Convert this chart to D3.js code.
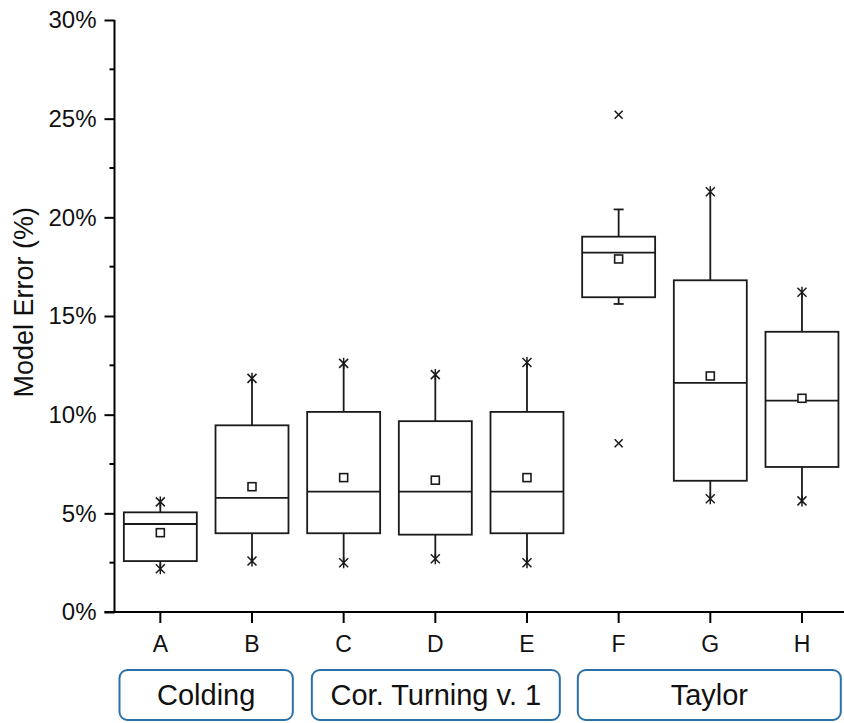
<!DOCTYPE html>
<html>
<head>
<meta charset="utf-8">
<script src="https://cdn.jsdelivr.net/npm/d3@7/dist/d3.min.js"></script>
<style>
  html, body { margin: 0; padding: 0; background: #fff; }
  svg { display: block; font-family: "Liberation Sans", Arial, sans-serif; }
</style>
</head>
<body>
<svg id="chart" width="844" height="723"></svg>
<script>
// Model error distribution per model (values in %)
const categories = ["A", "B", "C", "D", "E", "F", "G", "H"];
const q1        = [2.58, 3.99, 3.99, 3.92, 3.99, 15.95, 6.65, 7.35];
const median    = [4.46, 5.78, 6.10, 6.10, 6.10, 18.21, 11.61, 10.71];
const q3        = [5.05, 9.46, 10.14, 9.67, 10.14, 19.02, 16.81, 14.20];
const mean      = [4.02, 6.35, 6.81, 6.68, 6.81, 17.89, 11.96, 10.83];
const whiskLow  = [2.19, 2.58, 2.50, 2.70, 2.50, 15.61, 5.74, 5.63];
const whiskHigh = [5.58, 11.84, 12.60, 12.03, 12.64, 20.40, 21.30, 16.20];
// whisker ends drawn as asterisks (min/max) or as capped ends
const whiskerStyle = ["star", "star", "star", "star", "star", "cap", "star", "star"];
// individual outliers: [category, value]
const outliers = [["F", 25.2], ["F", 8.55]];

const yTicks = [0, 5, 10, 15, 20, 25, 30];
const groups = [
  { label: "Colding", from: "A", to: "B" },
  { label: "Cor. Turning v. 1", from: "C", to: "E" },
  { label: "Taylor", from: "F", to: "H" }
];

const svg = d3.select("#chart");
const x0 = 114.5, x1 = 847.8, yTop = 20, yBot = 612;

const x = d3.scaleBand().domain(categories).range([x0, x1]).paddingInner(0.2).paddingOuter(0.1);
const xc = c => x(c) + x.bandwidth() / 2;
const y = d3.scaleLinear().domain([0, 30]).range([yBot, yTop]);

const ink = "#1a1a1a";
const txt = "#111";

// Y axis with major and minor ticks
const yAxis = d3.axisLeft(y).tickValues(yTicks).tickFormat(d => d + "%").tickSize(10).tickPadding(8);
const gy = svg.append("g").attr("transform", `translate(${x0},0)`).call(yAxis);
gy.select(".domain").attr("stroke", "#000").attr("stroke-width", 2).attr("d", `M0,${yBot}V${yTop}`);
gy.selectAll(".tick line").attr("stroke", "#000").attr("stroke-width", 2);
gy.selectAll(".tick text").attr("font-size", 24).attr("fill", txt)
  .attr("font-family", "Liberation Sans, Arial, sans-serif");
const minor = d3.range(2.5, 30, 5);
svg.append("g").selectAll("line").data(minor).join("line")
  .attr("x1", x0 - 5).attr("x2", x0).attr("y1", d => y(d)).attr("y2", d => y(d))
  .attr("stroke", "#000").attr("stroke-width", 2);

// X axis
const xAxis = d3.axisBottom(x).tickSize(11).tickPadding(13);
const gx = svg.append("g").attr("transform", `translate(0,${yBot})`).call(xAxis);
gx.select(".domain").attr("stroke", "#000").attr("stroke-width", 2).attr("d", `M${x0 - 10},0H${x1}`);
gx.selectAll(".tick line").attr("stroke", "#000").attr("stroke-width", 2);
gx.selectAll(".tick text").attr("font-size", 23).attr("fill", txt)
  .attr("font-family", "Liberation Sans, Arial, sans-serif");

// Y axis title
svg.append("text")
  .attr("transform", `translate(33,${y(15.7)}) rotate(-90)`)
  .attr("text-anchor", "middle")
  .attr("font-size", 27)
  .attr("fill", txt)
  .text("Model Error (%)");

// Boxes
const bw = x.bandwidth() * 0.995;
const boxes = svg.append("g");
categories.forEach((c, i) => {
  const cx = xc(c);
  const g = boxes.append("g");
  // whiskers
  g.append("line").attr("x1", cx).attr("x2", cx).attr("y1", y(q3[i])).attr("y2", y(whiskHigh[i]))
    .attr("stroke", ink).attr("stroke-width", 1.8);
  g.append("line").attr("x1", cx).attr("x2", cx).attr("y1", y(q1[i])).attr("y2", y(whiskLow[i]))
    .attr("stroke", ink).attr("stroke-width", 1.8);
  // box
  g.append("rect").attr("x", cx - bw / 2).attr("width", bw)
    .attr("y", y(q3[i])).attr("height", y(q1[i]) - y(q3[i]))
    .attr("fill", "none").attr("stroke", ink).attr("stroke-width", 1.8);
  // median
  g.append("line").attr("x1", cx - bw / 2).attr("x2", cx + bw / 2)
    .attr("y1", y(median[i])).attr("y2", y(median[i]))
    .attr("stroke", ink).attr("stroke-width", 1.8);
  // mean
  g.append("rect").attr("x", cx - 4).attr("y", y(mean[i]) - 4).attr("width", 8).attr("height", 8)
    .attr("fill", "#fff").attr("stroke", ink).attr("stroke-width", 1.6);
  // whisker ends
  [whiskLow[i], whiskHigh[i]].forEach(v => {
    const yy = y(v);
    if (whiskerStyle[i] === "cap") {
      g.append("line").attr("x1", cx - 5).attr("x2", cx + 5).attr("y1", yy).attr("y2", yy)
        .attr("stroke", ink).attr("stroke-width", 1.8);
    } else {
      const s = 4.5;
      g.append("path")
        .attr("d", `M${cx - s},${yy - s}L${cx + s},${yy + s}M${cx - s},${yy + s}L${cx + s},${yy - s}M${cx},${yy - s - 1}V${yy + s + 1}`)
        .attr("stroke", ink).attr("stroke-width", 1.5).attr("fill", "none");
    }
  });
});

// Outliers
svg.append("g").selectAll("path").data(outliers).join("path")
  .attr("d", d => {
    const cx = xc(d[0]), yy = y(d[1]), s = 4;
    return `M${cx - s},${yy - s}L${cx + s},${yy + s}M${cx - s},${yy + s}L${cx + s},${yy - s}`;
  })
  .attr("stroke", ink).attr("stroke-width", 1.6).attr("fill", "none");

// Group labels under the axis
const step = x.step();
const insets = [[5, 5], [14, 13], [5, 7]];
const gg = svg.append("g");
groups.forEach((grp, k) => {
  const left = xc(grp.from) - step / 2 + insets[k][0];
  const right = xc(grp.to) + step / 2 - insets[k][1];
  gg.append("rect").attr("x", left).attr("y", 670).attr("width", right - left).attr("height", 50)
    .attr("rx", 8).attr("ry", 8)
    .attr("fill", "#fff").attr("stroke", "#2b71a8").attr("stroke-width", 2);
  gg.append("text").attr("x", (left + right) / 2).attr("y", 705)
    .attr("text-anchor", "middle").attr("font-size", 29).attr("fill", txt)
    .text(grp.label);
});
</script>
</body>
</html>
